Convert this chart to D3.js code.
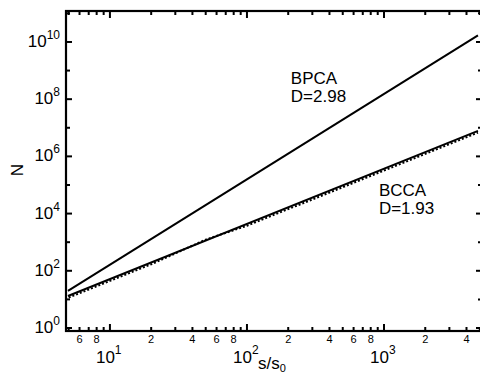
<!DOCTYPE html>
<html>
<head>
<meta charset="utf-8">
<script src="https://cdn.jsdelivr.net/npm/d3@7"></script>
<style>
  body { margin: 0; background: #fff; }
  svg { display: block; font-family: "Liberation Sans", Arial, Helvetica, sans-serif; }
</style>
</head>
<body>
<div id="container"></div>
<script>
// fitted lines (s/s0, N)
const bpcaS = [4.94, 4850];
const bpcaN = [20, 1.7e10];
const bccaS = [4.94, 4850];
const bccaN = [13.1, 7.8e6];
// simulated BCCA cluster data (dotted)
const dataS = [5, 7, 10, 20, 50, 100, 200, 500, 1000, 2000, 4850];
const dataN = [11.6, 22.2, 44.2, 168, 1230, 3760, 14300, 84000, 320000, 1.22e6, 6.75e6];

const yMajor = [1, 1e2, 1e4, 1e6, 1e8, 1e10];
const yMinor = [10, 1e3, 1e5, 1e7, 1e9, 1e11];
const yExp = ["0", "2", "4", "6", "8", "10"];
const xMajor = [10, 100, 1000];
const xExp = ["1", "2", "3"];
const xMinorLabels = [6, 8, 20, 40, 60, 80, 200, 400, 600, 800, 2000, 4000];
const xMinorLabelText = ["6", "8", "2", "4", "6", "8", "2", "4", "6", "8", "2", "4"];

const labels = [
  { s: 209, n: 3.4e8, lines: ["BPCA", "D=2.98"] },
  { s: 918, n: 4.1e4, lines: ["BCCA", "D=1.93"] }
];

const width = 480, height = 376;
const pLeft = 66, pRight = 482, pTop = 11, pBottom = 331;

const svg = d3.select("#container").append("svg")
  .attr("width", width)
  .attr("height", height);

const x = d3.scaleLog().domain([4.78, 5190]).range([pLeft, pRight]);
const y = d3.scaleLog().domain([0.785, 1.21e11]).range([pBottom, pTop]);

// x minor ticks 2..9 in each decade
const xMinor = [];
[1, 10, 100, 1000].forEach(function (d) {
  for (let k = 2; k <= 9; k++) {
    const v = d * k;
    if (v > 4.78 && v < 5190) xMinor.push(v);
  }
});

const g = svg.append("g");
svg.append("clipPath").attr("id", "plotclip")
  .append("rect").attr("x", pLeft).attr("y", pTop)
  .attr("width", pRight - pLeft).attr("height", pBottom - pTop);

const line = d3.line()
  .x(function (d) { return x(d[0]); })
  .y(function (d) { return y(d[1]); });

const plot = g.append("g").attr("clip-path", "url(#plotclip)");

plot.append("path")
  .datum(d3.zip(dataS, dataN))
  .attr("d", line)
  .attr("fill", "none")
  .attr("stroke", "#000")
  .attr("stroke-width", 2)
  .attr("stroke-dasharray", "2,2");

plot.append("path")
  .datum(d3.zip(bccaS, bccaN))
  .attr("d", line)
  .attr("fill", "none")
  .attr("stroke", "#000")
  .attr("stroke-width", 2);

plot.append("path")
  .datum(d3.zip(bpcaS, bpcaN))
  .attr("d", line)
  .attr("fill", "none")
  .attr("stroke", "#000")
  .attr("stroke-width", 2);

// frame
g.append("rect")
  .attr("x", pLeft).attr("y", pTop)
  .attr("width", pRight - pLeft).attr("height", pBottom - pTop)
  .attr("fill", "none")
  .attr("stroke", "#000")
  .attr("stroke-width", 2.2);

// ticks, all pointing inward
function xTicks(vals, len) {
  g.selectAll(null).data(vals).enter().append("line")
    .attr("x1", function (d) { return x(d); }).attr("x2", function (d) { return x(d); })
    .attr("y1", pBottom).attr("y2", pBottom - len)
    .attr("stroke", "#000").attr("stroke-width", 2);
  g.selectAll(null).data(vals).enter().append("line")
    .attr("x1", function (d) { return x(d); }).attr("x2", function (d) { return x(d); })
    .attr("y1", pTop).attr("y2", pTop + len)
    .attr("stroke", "#000").attr("stroke-width", 2);
}
function yTicks(vals, len) {
  g.selectAll(null).data(vals).enter().append("line")
    .attr("y1", function (d) { return y(d); }).attr("y2", function (d) { return y(d); })
    .attr("x1", pLeft).attr("x2", pLeft + len)
    .attr("stroke", "#000").attr("stroke-width", 2);
  g.selectAll(null).data(vals).enter().append("line")
    .attr("y1", function (d) { return y(d); }).attr("y2", function (d) { return y(d); })
    .attr("x1", pRight).attr("x2", pRight - len)
    .attr("stroke", "#000").attr("stroke-width", 2);
}
xTicks(xMajor, 7);
xTicks(xMinor, 4);
yTicks(yMajor, 6);
yTicks(yMinor.filter(function (d) { return y(d) > pTop + 2; }), 4);

// y tick labels: 10^n
const yl = g.selectAll(null).data(yMajor).enter().append("text")
  .attr("x", pLeft - 6)
  .attr("y", function (d) { return y(d) + 5; })
  .attr("text-anchor", "end")
  .attr("font-size", 17);
yl.append("tspan").text("10");
yl.append("tspan").attr("dy", -8).attr("font-size", 12)
  .text(function (d, i) { return yExp[i]; });

// x major labels
const xl = g.selectAll(null).data(xMajor).enter().append("text")
  .attr("x", function (d) { return x(d) - 14; })
  .attr("y", 363)
  .attr("font-size", 17);
xl.append("tspan").text("10");
xl.append("tspan").attr("dy", -9).attr("font-size", 12)
  .text(function (d, i) { return xExp[i]; });

// x minor labels
g.selectAll(null).data(xMinorLabels).enter().append("text")
  .attr("x", function (d) { return x(d); })
  .attr("y", 343)
  .attr("text-anchor", "middle")
  .attr("font-size", 11)
  .text(function (d, i) { return xMinorLabelText[i]; });

// axis titles
const xt = g.append("text").attr("x", 258).attr("y", 369).attr("font-size", 17);
xt.append("tspan").text("s/s");
xt.append("tspan").attr("dy", 3).attr("font-size", 11).text("0");

g.append("text")
  .attr("transform", "translate(23,170) rotate(-90)")
  .attr("text-anchor", "middle")
  .attr("font-size", 17)
  .text("N");

// curve annotations
labels.forEach(function (l) {
  const t = g.append("text").attr("font-size", 17);
  l.lines.forEach(function (s, i) {
    t.append("tspan")
      .attr("x", x(l.s))
      .attr("y", y(l.n) + i * 18)
      .text(s);
  });
});
</script>
</body>
</html>
